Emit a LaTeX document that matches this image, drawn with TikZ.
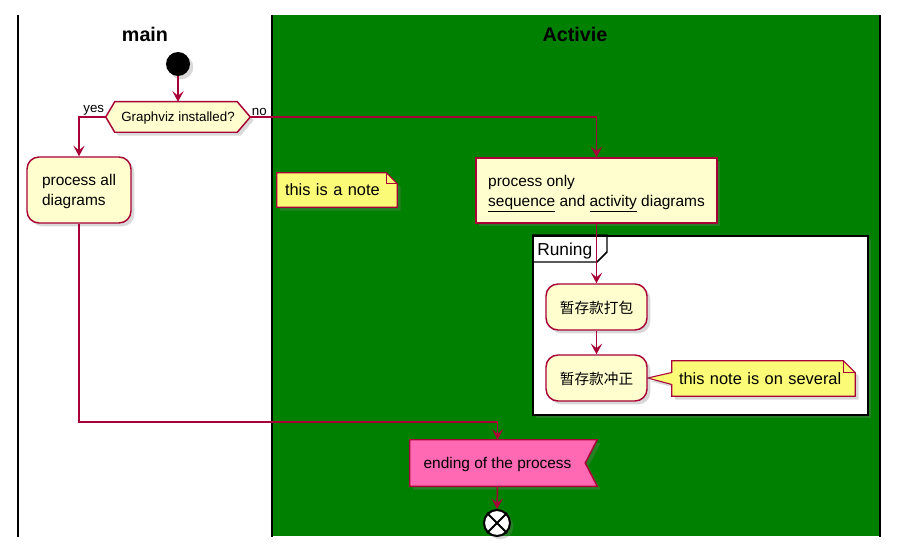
\documentclass[tikz,border=0pt]{standalone}
\usepackage{fontspec}
\setmainfont{Liberation Sans}
\newfontfamily\cjk{Noto Sans CJK SC}
\usetikzlibrary{arrows.meta,shadows}
\definecolor{arrc}{HTML}{A80036}
\definecolor{boxc}{HTML}{FEFECE}
\definecolor{notec}{HTML}{FBFB77}
\definecolor{lanec}{HTML}{008000}
\definecolor{endc}{HTML}{FF69B4}
\newcommand\bodyfnt{\fontsize{11.6}{15}\selectfont}
\newcommand\titlefnt{\bfseries\fontsize{14.8}{18}\selectfont}
\newcommand\decfnt{\fontsize{10}{12}\selectfont}
\newcommand\notefnt{\fontsize{12.3}{15}\selectfont}
\newcommand\cjkfnt{\cjk\fontsize{11}{14}\selectfont}
\newcommand\partfnt{\fontsize{13}{15}\selectfont}
\pgfdeclarelayer{bg}
\pgfdeclarelayer{shp}
\pgfsetlayers{bg,shp,main}
\begin{document}
\begin{tikzpicture}[x=0.75pt,y=-0.75pt,
  shd/.style={drop shadow={shadow xshift=2.5pt,shadow yshift=-2.5pt,opacity=0.3}},
  box/.style={draw=arrc, fill=boxc, line width=1.1pt, rounded corners=9pt, align=left, inner sep=0pt, font=\bodyfnt, text depth=0pt, shd},
  sqbox/.style={box, rounded corners=0pt},
  cjkbox/.style={box, font=\cjkfnt, minimum width=75.75pt, minimum height=34.5pt},
  txt/.style={inner sep=0pt, align=left, text depth=0pt},
  outline/.style={draw=arrc, line width=1.1pt, shd},
  notesh/.style={draw=arrc, fill=notec, line width=0.8pt, shd},
  arr/.style={draw=arrc, line width=1.1pt, -{Stealth[length=8pt,width=8.5pt,inset=3.5pt]}},
  lane/.style={draw=black, line width=1.5pt},
  ttl/.style={font=\titlefnt, inner sep=0pt}
]
\useasboundingbox (0,0) rectangle (903,556);

% background, lanes and partition
\begin{pgfonlayer}{bg}
\fill[lanec] (272,15) rectangle (880,536);
\draw[lane] (18,15) -- (18,537);
\draw[lane] (271.5,15) -- (271.5,537);
\draw[lane] (880,15) -- (880,537);
\node[draw=black, fill=white, line width=1.5pt, minimum width=251.25pt, minimum height=134.25pt, inner sep=0pt, shd] (part) at (700.5,325.5) {};
\draw[black, line width=1.1pt] (part.north west) -- ++(75,0) -- ++(0,17) -- ++(-10,10) -- ++(-65,0);
\end{pgfonlayer}
\node[font=\partfnt, anchor=west, inner sep=0pt] (plabel) at (537,251) {Runing};

\node[ttl] (t1) at (145,34) {main};
\node[ttl] (t2) at (575,34) {Activie};

% start
\node[circle, fill=black, minimum size=18pt, inner sep=0pt, shd] (start) at (178,64) {};

% decision
\node[font=\decfnt, minimum width=108pt, minimum height=22.5pt, inner sep=0pt, text depth=0pt] (dec) at (178,117) {Graphviz installed?};
\node[font=\decfnt, anchor=south east, inner sep=1pt] (yes) at (dec.west) {yes};
\node[font=\decfnt, anchor=south west, inner sep=1pt] (no) at (dec.east) {no};

% activities
\node[box, minimum width=78pt, minimum height=49.5pt] (p1) at (79,190) {process all\\diagrams};
\node[sqbox, minimum width=180.75pt, minimum height=48.75pt] (p2) at (596.5,190.5) {process only\\\underline{sequence} and \underline{activity} diagrams};
\node[cjkbox] (c1) at (596.5,307) {暂存款打包};
\node[cjkbox] (c2) at (596.5,378) {暂存款冲正};

% notes
\node[txt, font=\notefnt, minimum width=90pt, minimum height=25.5pt, text width=78pt, inner xsep=6pt] (n1) at (337,190) {this is a note};
\node[txt, font=\notefnt, minimum width=137.25pt, minimum height=26.25pt, text width=126.75pt, inner xsep=5.25pt] (n2) at (763.5,378.5) {this note is on several};

% end of process
\node[inner sep=0pt, text depth=0pt, font=\bodyfnt, minimum width=131.25pt, minimum height=34.5pt] (endp) at (497.5,463) {ending of the process};

% end
\node[circle, draw=black, fill=white, line width=1.5pt, minimum size=19.5pt, inner sep=0pt, shd] (endx) at (497,523) {};
\draw[black, line width=1.5pt] (endx.north west) -- (endx.south east) (endx.north east) -- (endx.south west);

% shapes drawn under the texts
\begin{pgfonlayer}{shp}
\draw[outline, fill=boxc] (dec.west) -- ([xshift=6.75pt]dec.north west) -- ([xshift=-9.75pt]dec.north east) -- (dec.east) -- ([xshift=-9.75pt]dec.south east) -- ([xshift=6.75pt]dec.south west) -- cycle;
\draw[outline, fill=endc] (endp.north west) -- ([xshift=9pt]endp.north east) -- (endp.east) -- ([xshift=9pt]endp.south east) -- (endp.south west) -- cycle;
\draw[notesh] (n1.north west) -- ([xshift=-8.25pt]n1.north east) -- ([yshift=-8.25pt]n1.north east) -- (n1.south east) -- (n1.south west) -- cycle;
\draw[draw=arrc, line width=0.8pt] ([xshift=-8.25pt]n1.north east) |- ([yshift=-8.25pt]n1.north east);
\draw[notesh] (n2.north west) -- ([xshift=-9pt]n2.north east) -- ([yshift=-9pt]n2.north east) -- (n2.south east) -- (n2.south west) -- ([yshift=-4.5pt]n2.west) -- (c2.east) -- ([yshift=4.5pt]n2.west) -- cycle;
\draw[draw=arrc, line width=0.8pt] ([xshift=-9pt]n2.north east) |- ([yshift=-9pt]n2.north east);
\end{pgfonlayer}

% connectors
\coordinate (mrg) at (300,422);
\draw[arr] (start) -- (dec.north);
\draw[arr] (dec.west) -| (p1.north);
\draw[arr] (dec.east) -| (p2.north);
\draw[arr] (p2.south) -- (c1.north);
\draw[arr] (c1.south) -- (c2.north);
\draw[arr] (p1.south) |- (mrg) -| (endp.north);
\draw[arr] (endp.south) -- (endx.north);
\end{tikzpicture}
\end{document}
